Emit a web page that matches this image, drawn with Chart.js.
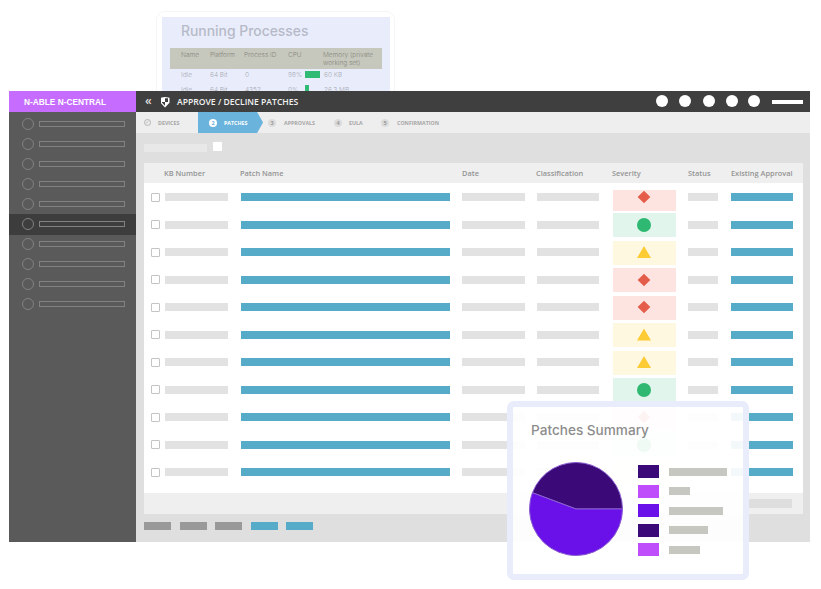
<!DOCTYPE html>
<html>
<head>
<meta charset="utf-8">
<title>Patches Summary</title>
<script src="https://cdn.jsdelivr.net/npm/chart.js"></script>
<style>
html, body { margin: 0; padding: 0; background: #fff; }
#page { position: relative; width: 821px; height: 589px; overflow: hidden; font-family: "Open Sans", sans-serif; }
#page div { position: absolute; box-sizing: border-box; white-space: nowrap; }
</style>
</head>
<body>
<div id="page"></div>
<script>
// pie data, two of the five legend entries have no visible slice
const categories = ["Item 1", "Item 2", "Item 3", "Item 4", "Item 5"];
const patchValues = [44.3, 0, 55.7, 0, 0];
const sliceColors = ["#3b0a78", "#bf4dfb", "#6a10e8", "#3b0a78", "#bf4dfb"];
const legendBarWidths = [58, 21, 54, 39, 31];

// table
const tableColumns = ["KB Number", "Patch Name", "Date", "Classification", "Severity", "Status", "Existing Approval"];
const severities = ["high", "ok", "warn", "high", "high", "warn", "warn", "ok", "high", "ok", "warn"];
const sideRows = [124, 144, 164, 184, 204, 224, 244, 264, 284, 304];
const steps = ["DEVICES", "PATCHES", "APPROVALS", "EULA", "CONFIRMATION"];
const processColumns = ["Name", "Platform", "Process ID", "CPU"];
const processRows = [
    ["Idle", "64 Bit", "0", "98%", "60 KB"],
    ["Idle", "64 Bit", "4352", "0%", "26.3 MB"]
];

const page = document.getElementById('page');

function box(x, y, w, h, color, parent) {
    const d = document.createElement('div');
    d.style.cssText = `left:${x}px;top:${y}px;width:${w}px;height:${h}px;background:${color};`;
    (parent || page).appendChild(d);
    return d;
}

function label(text, x, cy, size, color, weight, font) {
    const d = document.createElement('div');
    d.textContent = text;
    d.style.cssText = `left:${x}px;top:${cy - 10}px;height:20px;line-height:20px;font-size:${size}px;color:${color};font-weight:${weight || 400};`;
    if (font) d.style.fontFamily = font;
    page.appendChild(d);
    return d;
}

function circle(cx, cy, r, color) {
    const d = box(cx - r, cy - r, r * 2, r * 2, color);
    d.style.borderRadius = '50%';
    return d;
}

function drawProcesses() {
    const outer = box(156, 11, 239, 90, '#fff');
    outer.style.border = '1px solid #f6f6f8';
    outer.style.borderRadius = '9px';
    box(162, 17, 228, 75, '#e9edfb');
    label("Running Processes", 181, 31, 13.9, '#b6bac8', 500, 'Inter');
    box(170, 48, 212, 21, '#c7c8bd');
    const xs = [181, 210, 244, 288];
    processColumns.forEach((c, i) => label(c, xs[i], 55, 6.5, '#85867c', 300, 'Inter'));
    label("Memory (private", 323, 55, 6.5, '#85867c', 300, 'Inter');
    label("working set)", 323, 63, 6.5, '#85867c', 300, 'Inter');
    const rowX = [181, 210, 245, 288, 324];
    processRows.forEach((row, r) => {
        row.forEach((t, i) => label(t, rowX[i], 75 + r * 15, 6.5, '#a6a8b2', 300, 'Inter'));
    });
    box(305, 71, 15, 7, '#2fbb74');
    box(305, 85, 4, 7, '#2fbb74');
}

function drawShell() {
    box(136, 133, 674, 409, '#dfdfdf');
    box(9, 112, 127, 430, '#5a5a5a');
    box(9, 91, 127, 21, '#c66cff');
    box(136, 91, 674, 21, '#3f3f3f');
    box(136, 112, 674, 21, '#eeeeee');
    label("N-ABLE N-CENTRAL", 24, 102, 8.3, '#fff', 700, '"Liberation Sans"');
    label("«", 145, 101, 12, '#ddd', 600);
    label("APPROVE / DECLINE PATCHES", 177, 102, 8.6, '#f2f2f2', 600);

    const shield = box(160.5, 97, 9, 10.5, '#fff');
    shield.style.clipPath = 'polygon(0 8%, 50% 0, 100% 8%, 100% 55%, 50% 100%, 0 55%)';
    const inner = box(1.2, 1.2, 6.6, 7.6, 'conic-gradient(#3f3f3f 0 25%, #fff 25% 50%, #3f3f3f 50% 75%, #fff 75%)', shield);
    inner.style.clipPath = 'polygon(0 0, 100% 0, 100% 55%, 50% 100%, 0 55%)';

    [662, 685, 709, 732, 754].forEach(x => circle(x, 101, 6, '#fff'));
    box(772, 100, 31, 4, '#fff');

    box(9, 214, 127, 21, '#3d3d3d');
    sideRows.forEach(y => {
        const c = circle(28, y, 6, 'transparent');
        c.style.border = '1px solid #828282';
        const line = box(39, y - 3, 86, 6, 'transparent');
        line.style.border = '1px solid #828282';
    });
}

function drawSteps() {
    const tab = box(198, 112, 65, 21, '#6ab3dc');
    tab.style.clipPath = 'polygon(0 0, 91% 0, 100% 50%, 91% 100%, 0 100%)';
    const circleX = [147, 213, 272, 338, 385];
    const labelX = [158, 224, 284, 349, 397];
    steps.forEach((s, i) => {
        const active = i === 1;
        if (i === 0) {
            const c = circle(circleX[i], 122.5, 3.5, 'transparent');
            c.style.border = '1px solid #b5b5b5';
            label("✓", circleX[i] - 2, 122, 5.5, '#b0b0b0', 700, '"DejaVu Sans"');
        } else {
            circle(circleX[i], 122.5, 4, active ? '#fff' : '#dcdcdc');
            label(String(i + 1), circleX[i] - 1.5, 122.5, 5.5, active ? '#6ab3dc' : '#999', 700);
        }
        label(s, labelX[i], 122.5, 5.3, active ? '#fff' : '#a6a6a6', 700);
    });
    box(144, 144, 63, 8, '#e8e8e8');
    box(213, 142, 9, 9, '#fff');
}

function severityCell(kind, y, first) {
    const colors = {
        high: ['#fde4e1', '#e35d4a'],
        ok: ['#e1f5ec', '#2fb872'],
        warn: ['#fff8e0', '#fdcb33']
    }[kind];
    const top = first ? y - 7.5 : y - 11.5;
    box(612.5, top, 63, first ? 21 : 24, colors[0]);
    if (kind === 'high') {
        const m = box(639, y - 5, 10, 10, colors[1]);
        m.style.transform = 'rotate(45deg) scale(0.9)';
    } else if (kind === 'ok') {
        circle(644, y, 7, colors[1]);
    } else {
        const m = box(637, y - 6, 14, 12, colors[1]);
        m.style.clipPath = 'polygon(50% 0, 100% 100%, 0 100%)';
    }
}

function drawTable() {
    box(144, 163, 659, 351, '#fff');
    box(144, 163, 659, 20, '#efefef');
    box(144, 493, 659, 21, '#efefef');
    box(748, 499, 44, 9, '#dedede');
    const headX = [164, 240, 462, 536, 612, 688, 731];
    tableColumns.forEach((c, i) => label(c, headX[i], 173, 7.4, '#949494', 600));

    severities.forEach((kind, i) => {
        const y = 197 + i * 27.5;
        const check = box(151, y - 4.5, 9, 9, '#fff');
        check.style.border = '1px solid #c4c4c4';
        check.style.borderRadius = '1px';
        box(165, y - 4, 63, 8, '#e2e2e2');
        box(241, y - 4, 209, 8, '#56abc9');
        box(462, y - 4, 63, 8, '#e2e2e2');
        box(537, y - 4, 62, 8, '#e2e2e2');
        severityCell(kind, y, i === 0);
        box(688, y - 4, 30, 8, '#e2e2e2');
        box(731, y - 4, 62, 8, '#56abc9');
    });

    [144, 180, 215].forEach(x => box(x, 522, 27, 8, '#999999'));
    [251, 286].forEach(x => box(x, 522, 27, 8, '#56abc9'));
}

function drawSummary() {
    const panel = box(507, 401, 242, 179, 'rgba(255,255,255,0.93)');
    panel.style.border = '6px solid #e8ecfb';
    panel.style.borderRadius = '7px';
    label("Patches Summary", 531, 430, 13.6, '#8d8d8d', 500, 'Inter');

    const legendY = [465, 484.5, 504, 523.5, 543];
    categories.forEach((c, i) => {
        box(638, legendY[i], 21, 13, sliceColors[i]);
        box(669, legendY[i] + 2.5, legendBarWidths[i], 8, '#c6c7c1');
    });

    const wrap = box(529, 462, 94, 94, 'transparent');
    const canvas = document.createElement('canvas');
    wrap.appendChild(canvas);
    new Chart(canvas, {
        type: "pie",
        data: {
            labels: categories,
            datasets: [{
                data: patchValues,
                backgroundColor: sliceColors,
                borderColor: "#8a5fd0",
                borderWidth: 1
            }]
        },
        options: {
            responsive: true,
            maintainAspectRatio: false,
            animation: false,
            rotation: 290.5,
            plugins: {
                legend: { display: false },
                tooltip: { enabled: false }
            }
        }
    });
}

drawProcesses();
drawShell();
drawSteps();
drawTable();
drawSummary();
</script>
</body>
</html>
